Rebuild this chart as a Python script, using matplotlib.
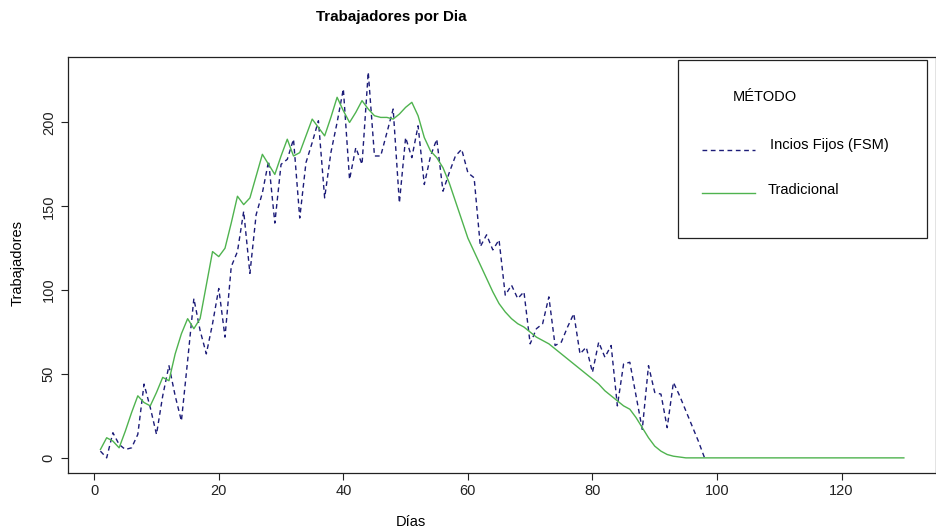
import matplotlib
matplotlib.use("Agg")
import matplotlib.pyplot as plt
from matplotlib.lines import Line2D
from matplotlib.patches import Rectangle
import numpy as np

plt.rcParams['font.family'] = ['Liberation Sans', 'DejaVu Sans']

# ---- data ----
fsm_values = [4, 0, 15, 8, 5, 6, 14, 44, 30, 14,
              37, 55, 37, 22, 58, 95, 76, 62, 80, 101,
              72, 114, 123, 147, 110, 145, 158, 177, 140, 175,
              178, 190, 143, 176, 188, 201, 155, 182, 200, 220,
              166, 185, 175, 230, 180, 180, 194, 208, 152, 191,
              179, 198, 163, 180, 190, 159, 170, 180, 184, 170,
              167, 126, 133, 124, 130, 97, 103, 95, 99, 68,
              77, 80, 96, 67, 69, 78, 86, 62, 66, 51,
              69, 60, 67, 31, 56, 57, 37, 17, 55, 39,
              38, 18, 45, 37, 28, 19, 10, 0]
fsm_days = list(range(1, len(fsm_values) + 1))

trad_values = [5, 12, 10, 6, 16, 27, 37, 33, 31, 39,
               48, 46, 62, 74, 83, 77, 83, 103, 123, 120,
               125, 140, 156, 151, 155, 168, 181, 175, 169, 180,
               190, 180, 182, 192, 202, 197, 192, 203, 215, 207,
               200, 206, 213, 208, 204, 203, 203, 202, 205, 209,
               212, 204, 191, 183, 179, 173, 164, 153, 142, 131,
               123, 115, 107, 99, 92, 87, 83, 80, 78, 75,
               72, 70, 68, 65, 62, 59, 56, 53, 50, 47,
               44, 40, 37, 34, 31, 29, 24, 18, 12, 7,
               4, 2, 1, 0.5] + [0] * 36
trad_days = list(range(1, len(trad_values) + 1))

x_ticks = [0, 20, 40, 60, 80, 100, 120]
y_ticks = [0, 50, 100, 150, 200]

title = "Trabajadores por Dia"
xlabel = "Días"
ylabel = "Trabajadores"
legend_title = "MÉTODO"
legend_labels = ["Incios Fijos (FSM)", "Tradicional"]

fsm_color = "#1c1c78"
trad_color = "#4fb34f"

# ---- figure ----
W, H = 937, 529
fig = plt.figure(figsize=(W / 100, H / 100), dpi=100)

left_px, right_px, top_px, bottom_px = 68.3, 936.0, 56.7, 473.3
ax = fig.add_axes([left_px / W, 1 - bottom_px / H,
                   (right_px - left_px) / W, (bottom_px - top_px) / H])

ax.plot(fsm_days, fsm_values, color=fsm_color, lw=1.0, dashes=(3.4, 2.6))
ax.plot(trad_days, trad_values, color=trad_color, lw=1.0)

ax.set_xlim(-4.16, 135.16)
ax.set_ylim(-9.2, 239.2)
ax.set_xticks(x_ticks)
ax.set_yticks(y_ticks)
ax.set_xticklabels([str(t) for t in x_ticks], fontsize=10.5)
ax.set_yticklabels([str(t) for t in y_ticks], fontsize=10.5, rotation=90, va='center')
ax.tick_params(axis='both', direction='out', length=5, width=0.8, colors='#222222')
ax.tick_params(axis='x', pad=3)
ax.tick_params(axis='y', pad=4)
for s in ax.spines.values():
    s.set_color('#222222')
    s.set_linewidth(0.9)

fig.text(391 / W, 1 - 17 / H, title, ha='center', va='center',
         fontsize=10.9, fontweight='bold')
fig.text(411 / W, 1 - 522 / H, xlabel, ha='center', va='center', fontsize=10.5)
fig.text(18 / W, 1 - 263 / H, ylabel, ha='center', va='center',
         rotation=90, fontsize=10.5)

# ---- legend (drawn manually to match placement) ----
lx0, lx1, ly0, ly1 = 677.7, 926.7, 60.0, 238.3
fig.patches.append(Rectangle((lx0 / W, 1 - ly1 / H), (lx1 - lx0) / W, (ly1 - ly0) / H,
                             transform=fig.transFigure, fill=False,
                             edgecolor='#222222', lw=0.9))
fig.text(765 / W, 1 - 97 / H, legend_title, ha='center', va='center', fontsize=10.5)
fig.lines.append(Line2D([702 / W, 755 / W], [1 - 150 / H, 1 - 150 / H],
                        transform=fig.transFigure, color=fsm_color, lw=1.0,
                        dashes=(3.4, 2.6)))
fig.text(770 / W, 1 - 145 / H, legend_labels[0], ha='left', va='center', fontsize=10.5)
fig.lines.append(Line2D([702 / W, 755 / W], [1 - 193 / H, 1 - 193 / H],
                        transform=fig.transFigure, color=trad_color, lw=1.0))
fig.text(768 / W, 1 - 190 / H, legend_labels[1], ha='left', va='center', fontsize=10.5)

fig.savefig("out.png", dpi=100)
